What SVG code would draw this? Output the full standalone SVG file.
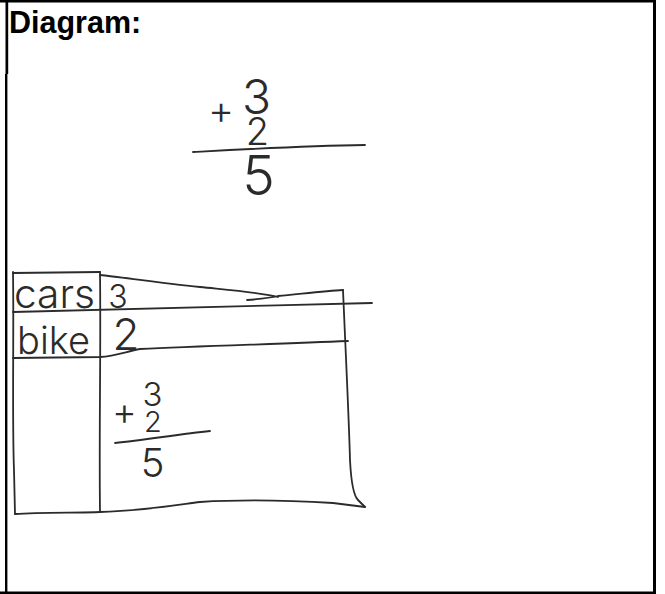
<svg xmlns="http://www.w3.org/2000/svg" width="665" height="594" viewBox="0 0 665 594">
<style>
.frame{fill:#000}
.title{font-family:"Liberation Sans",Arial,sans-serif;font-weight:bold;font-size:30.5px;fill:#000}
.pen{fill:none;stroke:#2b2b2b;stroke-width:1.8;stroke-linecap:round;stroke-linejoin:round}
.hw{font-family:Inter,Lato,"DejaVu Sans",sans-serif;font-weight:300;fill:#2b2b2b;text-anchor:middle}
.lbl{font-family:Inter,Lato,"DejaVu Sans",sans-serif;font-weight:300;fill:#2b2b2b}
</style>
<rect width="665" height="594" fill="#fff"/>
<g id="frame">
<rect class="frame" x="0" y="0" width="656" height="2.5"/>
<rect class="frame" x="653" y="0" width="3" height="594"/>
<rect class="frame" x="0" y="591.5" width="656" height="2.5"/>
<rect class="frame" x="5.5" y="0" width="2.7" height="74"/>
<rect class="frame" x="5" y="74" width="2.4" height="520"/>
</g>
<g id="title"><text class="title" x="9" y="32.5">Diagram:</text></g>
<g id="sum-top">
<text class="hw" x="221" y="124" font-size="40">+</text>
<text class="hw" x="256.5" y="114" font-size="48">3</text>
<text class="hw" x="257.5" y="145" font-size="38">2</text>
<path class="pen" d="M193,152 C230,150 300,146 365,145"/>
<text class="hw" x="258.5" y="195" font-size="55">5</text>
</g>
<g id="table">
<path class="pen" d="M13,273 L100,272"/>
<path class="pen" d="M100,275 C120,277 160,283 200,287 C240,291 265,293 278,297 M247,300 C260,299 270,298 278,296 C300,294 325,291 343,290"/>
<path class="pen" d="M13,312 C120,309 250,306 372,303"/>
<path class="pen" d="M13,358 L100,357 C115,356 125,352 140,349 C200,346 280,344 348,341"/>
<path class="pen" d="M13,272 C14,330 12,420 14,470 L15,514"/>
<path class="pen" d="M100,272 C101,350 99,430 100,512"/>
<path class="pen" d="M343,290 C346,360 349,420 350,460 C351,480 353,495 358,500 L365,507"/>
<path class="pen" d="M15,514 C40,512 80,513 100,512 C140,511 170,506 200,502 C250,499 300,501 333,503 L365,507"/>
<text class="lbl" x="14" y="308" font-size="40" textLength="81" lengthAdjust="spacingAndGlyphs">cars</text>
<text class="hw" x="118" y="308" font-size="32">3</text>
<text class="lbl" x="17" y="354" font-size="38" textLength="73" lengthAdjust="spacingAndGlyphs">bike</text>
<text class="hw" x="126" y="350" font-size="44">2</text>
<text class="hw" x="124.5" y="425" font-size="38">+</text>
<text class="hw" x="152.5" y="406" font-size="33">3</text>
<text class="hw" x="153" y="432" font-size="29">2</text>
<path class="pen" d="M115,443 C145,440 180,434 210,431"/>
<text class="hw" x="152.5" y="477" font-size="40">5</text>
</g>
</svg>
